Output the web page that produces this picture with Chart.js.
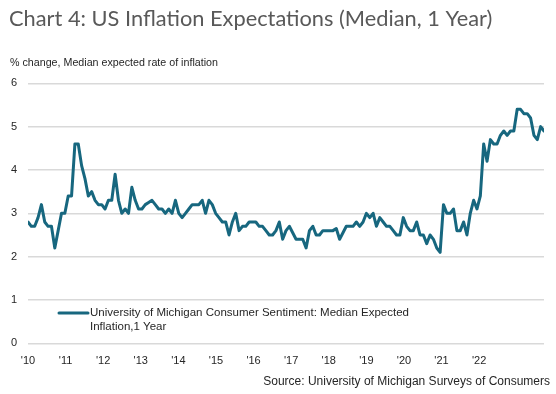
<!DOCTYPE html>
<html>
<head>
<meta charset="utf-8">
<script src="https://cdn.jsdelivr.net/npm/chart.js@4/dist/chart.umd.min.js"></script>
<style>
  html, body { margin: 0; padding: 0; background: #ffffff; }
  canvas { display: block; }
</style>
</head>
<body>
<canvas id="c" width="556" height="394"></canvas>
<script>
// ---- Data (monthly, Jan 2010 - Nov 2022) ----
const Y2010 = [2.8, 2.7, 2.7, 2.9, 3.2, 2.8, 2.7, 2.7, 2.2, 2.6, 3.0, 3.0];
const Y2011 = [3.4, 3.4, 4.6, 4.6, 4.1, 3.8, 3.4, 3.5, 3.3, 3.2, 3.2, 3.1];
const Y2012 = [3.3, 3.3, 3.9, 3.3, 3.0, 3.1, 3.0, 3.6, 3.3, 3.1, 3.1, 3.2];
const Y2013 = [3.25, 3.3, 3.2, 3.1, 3.1, 3.0, 3.1, 3.0, 3.3, 3.0, 2.9, 3.0];
const Y2014 = [3.1, 3.2, 3.2, 3.2, 3.3, 3.0, 3.3, 3.2, 3.0, 2.9, 2.8, 2.8];
const Y2015 = [2.5, 2.8, 3.0, 2.6, 2.7, 2.7, 2.8, 2.8, 2.8, 2.7, 2.7, 2.6];
const Y2016 = [2.5, 2.5, 2.6, 2.8, 2.4, 2.6, 2.7, 2.55, 2.4, 2.4, 2.4, 2.2];
const Y2017 = [2.6, 2.7, 2.5, 2.5, 2.6, 2.6, 2.6, 2.6, 2.65, 2.4, 2.55, 2.7];
const Y2018 = [2.7, 2.7, 2.8, 2.7, 2.8, 3.0, 2.9, 3.0, 2.7, 2.9, 2.8, 2.7];
const Y2019 = [2.7, 2.6, 2.5, 2.5, 2.9, 2.7, 2.6, 2.6, 2.8, 2.5, 2.5, 2.3];
const Y2020 = [2.5, 2.4, 2.2, 2.1, 3.2, 3.0, 3.0, 3.1, 2.6, 2.6, 2.8, 2.5];
const Y2021 = [3.0, 3.3, 3.1, 3.4, 4.6, 4.2, 4.7, 4.6, 4.6, 4.8, 4.9, 4.8];
const Y2022 = [4.9, 4.9, 5.4, 5.4, 5.3, 5.3, 5.2, 4.8, 4.7, 5.0, 4.9];

const EXPECTED_INFLATION = [].concat(Y2010, Y2011, Y2012, Y2013, Y2014, Y2015, Y2016,
  Y2017, Y2018, Y2019, Y2020, Y2021, Y2022);

const YEAR_LABELS = ["'10", "'11", "'12", "'13", "'14", "'15", "'16", "'17", "'18", "'19", "'20", "'21", "'22"];
const Y_TICKS = [0, 1, 2, 3, 4, 5, 6];

const TITLE = "Chart 4: US Inflation Expectations (Median, 1 Year)";
const AXIS_TITLE = "% change, Median expected rate of inflation";
const LEGEND_LINES = ["University of Michigan Consumer Sentiment: Median Expected", "Inflation,1 Year"];
const SOURCE = "Source: University of Michigan Surveys of Consumers";

// ---- Style ----
const LINE_COLOR = '#17677f';
const GRID_COLOR = '#d9d9d9';
const TEXT_COLOR = '#262626';
const LABEL_STEP = 11.22; // year-label spacing in months, as in the reference

const textPlugin = {
  id: 'texts',
  afterDraw(chart) {
    const ctx = chart.ctx;
    ctx.save();
    // Title
    ctx.fillStyle = '#595959';
    ctx.font = '21.8px Lato';
    ctx.textBaseline = 'alphabetic';
    ctx.textAlign = 'left';
    ctx.fillText(TITLE, 9, 26);
    // Axis title
    ctx.fillStyle = TEXT_COLOR;
    ctx.font = '10.7px "Liberation Sans"';
    ctx.fillText(AXIS_TITLE, 10, 66);
    // Legend
    ctx.strokeStyle = LINE_COLOR;
    ctx.lineWidth = 3;
    ctx.lineCap = 'round';
    ctx.beginPath();
    ctx.moveTo(59, 313);
    ctx.lineTo(88, 313);
    ctx.stroke();
    ctx.font = '11.5px "Liberation Sans"';
    ctx.textBaseline = 'middle';
    ctx.fillText(LEGEND_LINES[0], 90, 313);
    ctx.fillText(LEGEND_LINES[1], 90, 327);
    // Source
    ctx.textAlign = 'right';
    ctx.font = '12px "Liberation Sans"';
    ctx.fillText(SOURCE, 550, 382);
    ctx.restore();
  }
};

new Chart(document.getElementById('c'), {
  type: 'line',
  data: {
    datasets: [{
      label: LEGEND_LINES.join(' '),
      data: EXPECTED_INFLATION.map((v, i) => ({ x: i, y: v })),
      borderColor: LINE_COLOR,
      borderWidth: 3,
      pointRadius: 0,
      tension: 0,
      borderJoinStyle: 'round',
      borderCapStyle: 'round'
    }]
  },
  options: {
    responsive: false,
    animation: false,
    devicePixelRatio: 1,
    layout: { padding: { top: 83.3, right: 12, left: 0, bottom: 0 } },
    plugins: { legend: { display: false }, tooltip: { enabled: false }, title: { display: false } },
    scales: {
      x: {
        type: 'linear',
        min: 0,
        max: EXPECTED_INFLATION.length - 1,
        grid: { display: false },
        border: { display: false },
        afterBuildTicks: (axis) => {
          axis.ticks = YEAR_LABELS.map((_, i) => ({ value: i * LABEL_STEP }));
        },
        afterFit: (s) => { s.height = 50.7; },
        ticks: {
          autoSkip: false,
          maxRotation: 0,
          minRotation: 0,
          padding: 3,
          color: TEXT_COLOR,
          font: { family: 'Liberation Sans', size: 11 },
          callback: (v, i) => YEAR_LABELS[i]
        }
      },
      y: {
        min: Y_TICKS[0],
        max: Y_TICKS[Y_TICKS.length - 1],
        afterBuildTicks: (axis) => { axis.ticks = Y_TICKS.map(v => ({ value: v })); },
        afterFit: (s) => { s.width = 28; },
        grid: { color: GRID_COLOR, lineWidth: 1.5, drawTicks: false },
        border: { display: false },
        ticks: {
          padding: 11,
          color: TEXT_COLOR,
          font: { family: 'Liberation Sans', size: 11 }
        }
      }
    }
  },
  plugins: [textPlugin]
});
</script>
</body>
</html>
